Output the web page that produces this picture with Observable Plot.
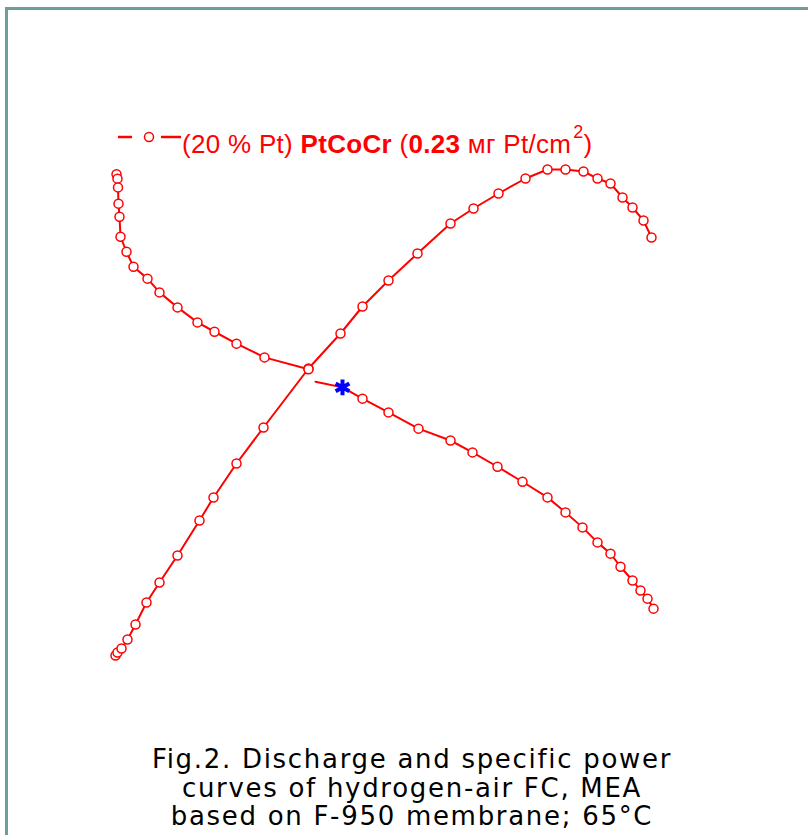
<!DOCTYPE html>
<html>
<head>
<meta charset="utf-8">
<script src="https://cdn.jsdelivr.net/npm/d3@7"></script>
<script src="https://cdn.jsdelivr.net/npm/@observablehq/plot@0.6"></script>
<style>
  html, body { margin: 0; padding: 0; background: #fff; width: 808px; height: 835px; overflow: hidden; }
  #frame { position: absolute; left: 5px; top: 7px; width: 900px; height: 900px;
           border-left: 3px solid #6f9d9c; border-top: 3px solid #6f9d9c; box-sizing: border-box; }
  #legend { position: absolute; left: 0; top: 0; width: 808px; height: 160px; }
  #legendText { position: absolute; left: 182px; top: 131px; font: 26px/26px "Liberation Sans", Arial, sans-serif;
                color: #ff0000; white-space: nowrap; letter-spacing: 0.3px; }
  #legendText sup { font-size: 18px; vertical-align: 0; position: relative; top: -15px; margin-left: 2px; }
  #chart { position: absolute; left: 0; top: 150px; }
  #caption { position: absolute; left: 8px; width: 808px; top: 745px; text-align: center;
             font: 26px/28.5px "DejaVu Sans", Verdana, sans-serif; letter-spacing: 1.7px; color: #000; }
</style>
</head>
<body>
<div id="frame"></div>
<svg id="legend" width="808" height="160"></svg>
<div id="legendText">(20 % Pt) <b>PtCoCr</b> (<b>0.23</b> мг Pt/cm<sup>2</sup>)</div>
<div id="chart"></div>
<div id="caption">Fig.2. Discharge and specific power<br>curves of hydrogen-air FC, MEA<br>based on F-950 membrane; 65°C</div>
<script>
// Current density, mA/cm²
const currentV = [2, 4, 5, 6, 8, 10, 22, 36, 64, 88, 124, 164, 198, 242, 298, 386, null, 400, 454, 494, 546, 606, 670, 714, 764, 814, 864, 900, 934, 964, 990, 1010, 1034, 1050, 1064, 1076];
// Cell voltage, mV (null = break in the curve)
const voltage  = [978, 971, 957, 931, 910, 878, 854, 830, 811, 789, 765, 741, 726, 707, 685, 666, null, 646, 637, 619, 597, 571, 552, 533, 510, 486, 461, 437, 413, 389, 371, 350, 328, 312, 299, 283];
// whether an open-circle marker is drawn at the point
const voltageMarker = [1,1,1,1,1,1,1,1,1,1,1,1,1,1,1,1,0,0,0,1,1,1,1,1,1,1,1,1,1,1,1,1,1,1,1,1];

const currentP = [0, 4, 12, 24, 40, 62, 88, 124, 168, 196, 242, 296, 386, 450, 494, 546, 604, 670, 716, 766, 820, 864, 900, 936, 964, 990, 1014, 1034, 1056, 1072];
// Specific power, mW/cm²
const power    = [5, 8, 12, 21, 36, 58, 78, 105, 140, 163, 197, 233, 292, 327, 354, 380, 407, 437, 452, 467, 482, 491, 491, 489, 482, 477, 463, 453, 440, 423];

// highlighted reference point (blue asterisk)
const refCurrent = [454];
const refVoltage = [637];

const vRows = currentV.map((j, i) => ({j, v: voltage[i], mark: voltageMarker[i] === 1}));
const pRows = currentP.map((j, i) => ({j, p: power[i]}));
const refRows = refCurrent.map((j, i) => ({j, v: refVoltage[i]}));

// power drawn on the voltage scale (second, unlabeled axis)
const pToY = p => 200 + 1.6 * p;
const RED = "#ff0000";

const chart = Plot.plot({
  width: 808,
  height: 520,
  margin: 0,
  style: {background: "transparent", overflow: "visible"},
  x: {domain: [0, 1100], range: [115, 665], axis: null},
  y: {domain: [200, 1000], range: [510, 10], axis: null},
  marks: [
    Plot.line(pRows, {x: "j", y: d => pToY(d.p), stroke: RED, strokeWidth: 2}),
    Plot.line(vRows, {x: "j", y: "v", stroke: RED, strokeWidth: 2}),
    Plot.dot(pRows, {x: "j", y: d => pToY(d.p), r: 4.5, stroke: RED, fill: "white", strokeWidth: 1.5}),
    Plot.dot(vRows.filter(d => d.mark), {x: "j", y: "v", r: 4.5, stroke: RED, fill: "white", strokeWidth: 1.5}),
    Plot.dot(refRows, {x: "j", y: "v", symbol: "asterisk", r: 7.5, stroke: "#0000ff", strokeWidth: 4})
  ]
});
document.getElementById("chart").appendChild(chart);

// legend swatch
const lg = d3.select("#legend");
lg.append("line").attr("x1", 118).attr("x2", 132).attr("y1", 137).attr("y2", 137).attr("stroke", RED).attr("stroke-width", 2.5);
lg.append("circle").attr("cx", 149).attr("cy", 137).attr("r", 4.5).attr("fill", "white").attr("stroke", RED).attr("stroke-width", 1.5);
lg.append("line").attr("x1", 161).attr("x2", 181).attr("y1", 137).attr("y2", 137).attr("stroke", RED).attr("stroke-width", 2.5);
</script>
</body>
</html>
